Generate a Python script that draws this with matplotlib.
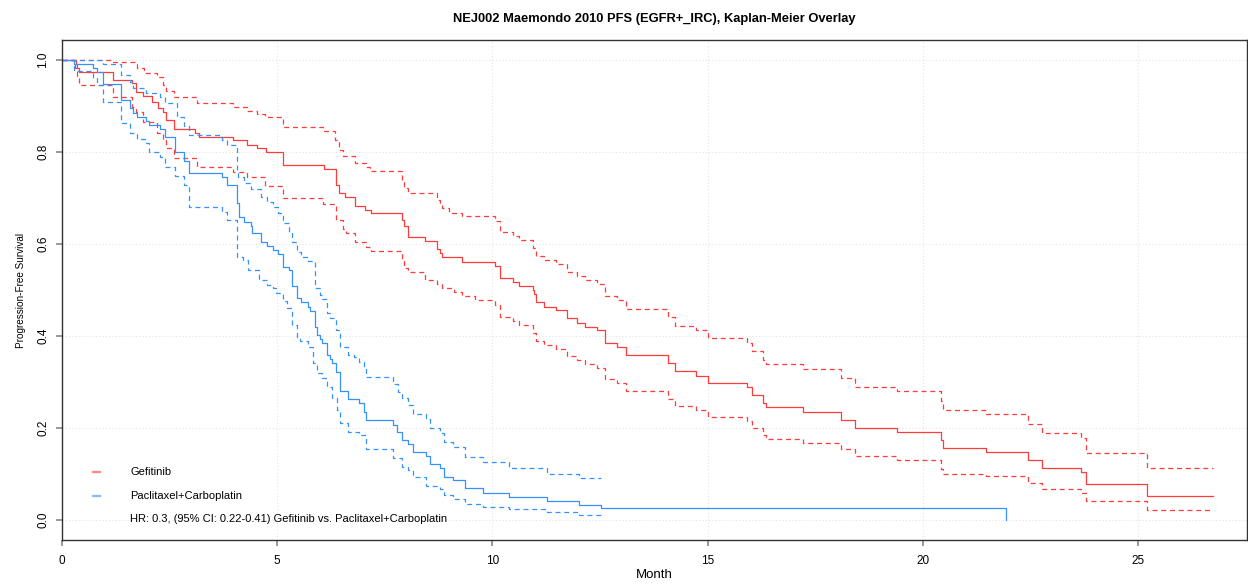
import matplotlib
matplotlib.use("Agg")
import matplotlib.pyplot as plt
from matplotlib.lines import Line2D

plt.rcParams['font.family'] = ['Liberation Sans', 'DejaVu Sans']

# Gefitinib KM estimate and 95% CI (time of step, survival after step)
gef_t = [0, 0.33, 0.36, 0.40, 1.20, 1.63, 1.73, 1.90, 2.09, 2.23,
         2.36, 2.43, 2.62, 3.10, 3.20, 3.99, 4.30, 4.53, 4.75, 5.13,
         6.10, 6.37, 6.45, 6.58, 6.81, 7.05, 7.19, 7.90, 7.94, 8.05,
         8.44, 8.71, 8.79, 8.83, 9.30, 10.06, 10.17, 10.48, 10.62, 10.94,
         10.97, 11.02, 11.20, 11.47, 11.74, 11.97, 12.16, 12.43, 12.61, 12.89,
         13.10, 14.07, 14.25, 14.73, 15.00, 15.92, 16.04, 16.29, 16.35, 17.22,
         18.09, 18.42, 19.39, 20.41, 20.47, 21.46, 22.43, 22.76, 23.67, 23.79,
         25.21, 26.73]
gef_s = [1.0, 0.991, 0.982, 0.973, 0.957, 0.949, 0.931, 0.922, 0.909, 0.895,
         0.888, 0.870, 0.851, 0.842, 0.833, 0.825, 0.815, 0.808, 0.799, 0.772,
         0.763, 0.728, 0.710, 0.703, 0.683, 0.674, 0.667, 0.652, 0.638, 0.616,
         0.607, 0.588, 0.580, 0.571, 0.561, 0.552, 0.525, 0.517, 0.508, 0.500,
         0.491, 0.473, 0.464, 0.456, 0.438, 0.429, 0.420, 0.412, 0.385, 0.377,
         0.358, 0.341, 0.323, 0.314, 0.297, 0.288, 0.271, 0.254, 0.245, 0.235,
         0.218, 0.200, 0.192, 0.174, 0.156, 0.147, 0.130, 0.112, 0.104, 0.078,
         0.052, 0.052]

gef_hi_t = [0, 1.20, 1.75, 1.92, 2.21, 2.36, 2.43, 2.60, 3.14, 3.99,
            4.30, 4.53, 4.72, 5.14, 6.08, 6.35, 6.45, 6.54, 6.81, 7.07,
            7.16, 7.90, 7.94, 8.05, 8.71, 8.79, 8.83, 9.00, 9.30, 10.06,
            10.17, 10.48, 10.62, 10.94, 11.01, 11.20, 11.47, 11.74, 11.97, 12.16,
            12.43, 12.61, 12.89, 13.10, 14.07, 14.25, 14.73, 15.00, 15.92, 16.04,
            16.29, 16.35, 17.22, 18.09, 18.42, 19.39, 20.41, 20.47, 21.46, 22.43,
            22.76, 23.67, 23.79, 25.21, 26.73]
gef_hi_s = [1.0, 0.995, 0.982, 0.971, 0.962, 0.946, 0.933, 0.919, 0.906, 0.897,
            0.889, 0.883, 0.875, 0.854, 0.846, 0.826, 0.804, 0.791, 0.775, 0.768,
            0.759, 0.736, 0.721, 0.710, 0.696, 0.688, 0.678, 0.668, 0.661, 0.651,
            0.625, 0.617, 0.609, 0.591, 0.574, 0.565, 0.557, 0.540, 0.530, 0.521,
            0.512, 0.486, 0.478, 0.459, 0.441, 0.422, 0.413, 0.395, 0.384, 0.367,
            0.348, 0.338, 0.328, 0.309, 0.290, 0.280, 0.259, 0.240, 0.230, 0.209,
            0.188, 0.178, 0.146, 0.114, 0.114]

gef_lo_t = [0, 0.31, 0.36, 0.40, 1.20, 1.63, 1.73, 1.90, 2.21, 2.36,
            2.43, 2.62, 3.14, 3.99, 4.30, 4.72, 5.14, 6.08, 6.37, 6.54,
            6.60, 6.81, 7.07, 7.19, 7.90, 7.94, 8.05, 8.44, 8.71, 8.83,
            9.10, 9.30, 9.60, 10.06, 10.17, 10.48, 10.62, 10.94, 11.01, 11.20,
            11.47, 11.74, 11.97, 12.16, 12.43, 12.61, 12.89, 13.10, 14.07, 14.25,
            14.73, 15.00, 15.92, 16.04, 16.29, 16.35, 17.22, 18.09, 18.42, 19.39,
            20.41, 20.47, 21.46, 22.43, 22.76, 23.67, 23.79, 25.21, 26.73]
gef_lo_s = [1.0, 0.982, 0.960, 0.946, 0.920, 0.898, 0.888, 0.866, 0.841, 0.825,
            0.808, 0.788, 0.767, 0.757, 0.746, 0.727, 0.699, 0.688, 0.652, 0.633,
            0.623, 0.604, 0.594, 0.585, 0.565, 0.547, 0.540, 0.522, 0.513, 0.505,
            0.496, 0.487, 0.478, 0.467, 0.441, 0.432, 0.424, 0.407, 0.389, 0.381,
            0.372, 0.356, 0.347, 0.338, 0.330, 0.306, 0.297, 0.280, 0.264, 0.247,
            0.239, 0.223, 0.215, 0.199, 0.185, 0.177, 0.168, 0.154, 0.138, 0.131,
            0.110, 0.101, 0.096, 0.080, 0.067, 0.059, 0.041, 0.022, 0.022]

# Paclitaxel+Carboplatin KM estimate and 95% CI
pac_t = [0, 0.29, 0.72, 0.83, 0.96, 1.37, 1.59, 1.65, 1.76, 1.96,
         2.04, 2.29, 2.40, 2.64, 2.84, 2.96, 3.72, 3.83, 4.08, 4.13,
         4.24, 4.39, 4.42, 4.62, 4.76, 4.90, 5.03, 5.15, 5.27, 5.34,
         5.46, 5.55, 5.73, 5.77, 5.89, 5.94, 6.00, 6.04, 6.17, 6.23,
         6.27, 6.37, 6.47, 6.64, 6.91, 7.03, 7.07, 7.69, 7.78, 7.90,
         8.05, 8.15, 8.46, 8.56, 8.79, 8.88, 9.08, 9.37, 9.79, 10.39,
         11.27, 12.02, 12.52, 21.93]
pac_s = [1.0, 0.991, 0.982, 0.973, 0.948, 0.913, 0.895, 0.885, 0.877, 0.868,
         0.859, 0.851, 0.833, 0.799, 0.781, 0.754, 0.745, 0.728, 0.690, 0.658,
         0.648, 0.639, 0.623, 0.605, 0.596, 0.587, 0.578, 0.551, 0.543, 0.509,
         0.482, 0.473, 0.464, 0.455, 0.420, 0.402, 0.393, 0.384, 0.359, 0.349,
         0.341, 0.322, 0.280, 0.262, 0.254, 0.235, 0.217, 0.207, 0.192, 0.174,
         0.165, 0.148, 0.139, 0.121, 0.112, 0.094, 0.086, 0.069, 0.059, 0.051,
         0.042, 0.033, 0.025, 0.0]

pac_hi_t = [0, 0.96, 1.37, 1.59, 1.65, 1.96, 2.29, 2.40, 2.67, 2.84,
            2.96, 3.72, 3.83, 4.07, 4.10, 4.24, 4.39, 4.62, 4.76, 4.90,
            5.03, 5.15, 5.27, 5.34, 5.46, 5.55, 5.73, 5.89, 6.00, 6.04,
            6.17, 6.23, 6.37, 6.47, 6.64, 6.80, 6.91, 7.03, 7.07, 7.69,
            7.82, 7.90, 8.05, 8.15, 8.46, 8.56, 8.79, 8.88, 9.08, 9.37,
            9.79, 10.39, 11.27, 12.02, 12.52]
pac_hi_s = [1.0, 0.991, 0.967, 0.953, 0.940, 0.928, 0.920, 0.906, 0.877, 0.857,
            0.837, 0.826, 0.815, 0.757, 0.746, 0.732, 0.719, 0.703, 0.692, 0.680,
            0.667, 0.645, 0.627, 0.605, 0.583, 0.572, 0.562, 0.504, 0.489, 0.480,
            0.449, 0.438, 0.413, 0.377, 0.359, 0.355, 0.344, 0.333, 0.310, 0.296,
            0.279, 0.265, 0.250, 0.230, 0.219, 0.199, 0.188, 0.170, 0.158, 0.136,
            0.125, 0.114, 0.101, 0.091, 0.091]

pac_lo_t = [0, 0.29, 0.72, 0.83, 0.96, 1.37, 1.59, 1.76, 1.96, 2.04,
            2.29, 2.40, 2.64, 2.84, 2.96, 3.72, 3.83, 4.07, 4.22, 4.34,
            4.59, 4.76, 4.90, 4.99, 5.15, 5.23, 5.34, 5.46, 5.54, 5.73,
            5.84, 5.92, 6.04, 6.17, 6.27, 6.39, 6.47, 6.64, 6.91, 7.07,
            7.69, 7.90, 8.05, 8.15, 8.46, 8.79, 8.88, 9.08, 9.37, 9.79,
            10.39, 11.27, 12.02, 12.52]
pac_lo_s = [1.0, 0.975, 0.960, 0.946, 0.908, 0.862, 0.841, 0.828, 0.819, 0.799,
            0.790, 0.768, 0.748, 0.728, 0.681, 0.670, 0.652, 0.572, 0.565, 0.543,
            0.522, 0.511, 0.504, 0.493, 0.475, 0.460, 0.424, 0.398, 0.390, 0.377,
            0.341, 0.319, 0.308, 0.290, 0.265, 0.239, 0.210, 0.192, 0.185, 0.154,
            0.134, 0.116, 0.109, 0.094, 0.074, 0.067, 0.054, 0.045, 0.034, 0.029,
            0.023, 0.017, 0.011, 0.011]

arm_names = ["Gefitinib", "Paclitaxel+Carboplatin"]
hr_text = "HR: 0.3, (95% CI: 0.22-0.41) Gefitinib vs. Paclitaxel+Carboplatin"
x_ticks = [0, 5, 10, 15, 20, 25]
y_ticks = [0.0, 0.2, 0.4, 0.6, 0.8, 1.0]

red = '#FF3B3B'
blue = '#3392FF'

fig = plt.figure(figsize=(12.48, 5.87), dpi=100)
ax = fig.add_axes([0.0493, 0.0801, 0.9499, 0.8518])

ax.set_xlim(0, 27.52)
ax.set_ylim(-0.0435, 1.0435)

# light dotted grid
for x in x_ticks:
    ax.axvline(x, color='#E3E3E3', lw=0.8, ls=(0, (1, 2)), zorder=0)
for y in y_ticks:
    ax.axhline(y, color='#E3E3E3', lw=0.8, ls=(0, (1, 2)), zorder=0)

dash = (0, (4, 3))
ax.plot(gef_t, gef_s, drawstyle='steps-post', color=red, lw=0.9)
ax.plot(gef_hi_t, gef_hi_s, drawstyle='steps-post', color=red, lw=0.9, ls=dash)
ax.plot(gef_lo_t, gef_lo_s, drawstyle='steps-post', color=red, lw=0.9, ls=dash)
ax.plot(pac_t, pac_s, drawstyle='steps-post', color=blue, lw=0.9)
ax.plot(pac_hi_t, pac_hi_s, drawstyle='steps-post', color=blue, lw=0.9, ls=dash)
ax.plot(pac_lo_t, pac_lo_s, drawstyle='steps-post', color=blue, lw=0.9, ls=dash)

# legend drawn by hand, R style
leg_y = [0.104, 0.052]
for name, col, yy in zip(arm_names, [red, blue], leg_y):
    ax.add_line(Line2D([0.72, 0.89], [yy, yy], color=col, lw=1.6, alpha=0.6))
    ax.text(1.59, yy, name, fontsize=8, va='center', ha='left')
ax.text(1.59, 0.002, hr_text, fontsize=8, va='center', ha='left')

ax.set_xticks(x_ticks)
ax.set_yticks(y_ticks)
ax.set_xticklabels([str(v) for v in x_ticks], fontsize=8.5)
ax.set_yticklabels(['%.1f' % v for v in y_ticks], fontsize=8.5, rotation=90, va='center')
ax.tick_params(direction='out', length=4, width=1.2, color='#888888')
ax.tick_params(axis='x', pad=7)
ax.tick_params(axis='y', pad=5)
for sp in ax.spines.values():
    sp.set_color('#333333')
    sp.set_linewidth(1.0)

ax.set_xlabel('Month', fontsize=9.5, labelpad=1)
ax.set_ylabel('Progression-Free Survival', fontsize=7.2, labelpad=8)
ax.set_title('NEJ002 Maemondo 2010 PFS (EGFR+_IRC), Kaplan-Meier Overlay',
             fontsize=9.3, fontweight='bold', pad=13)

fig.savefig('out.png', dpi=100)
